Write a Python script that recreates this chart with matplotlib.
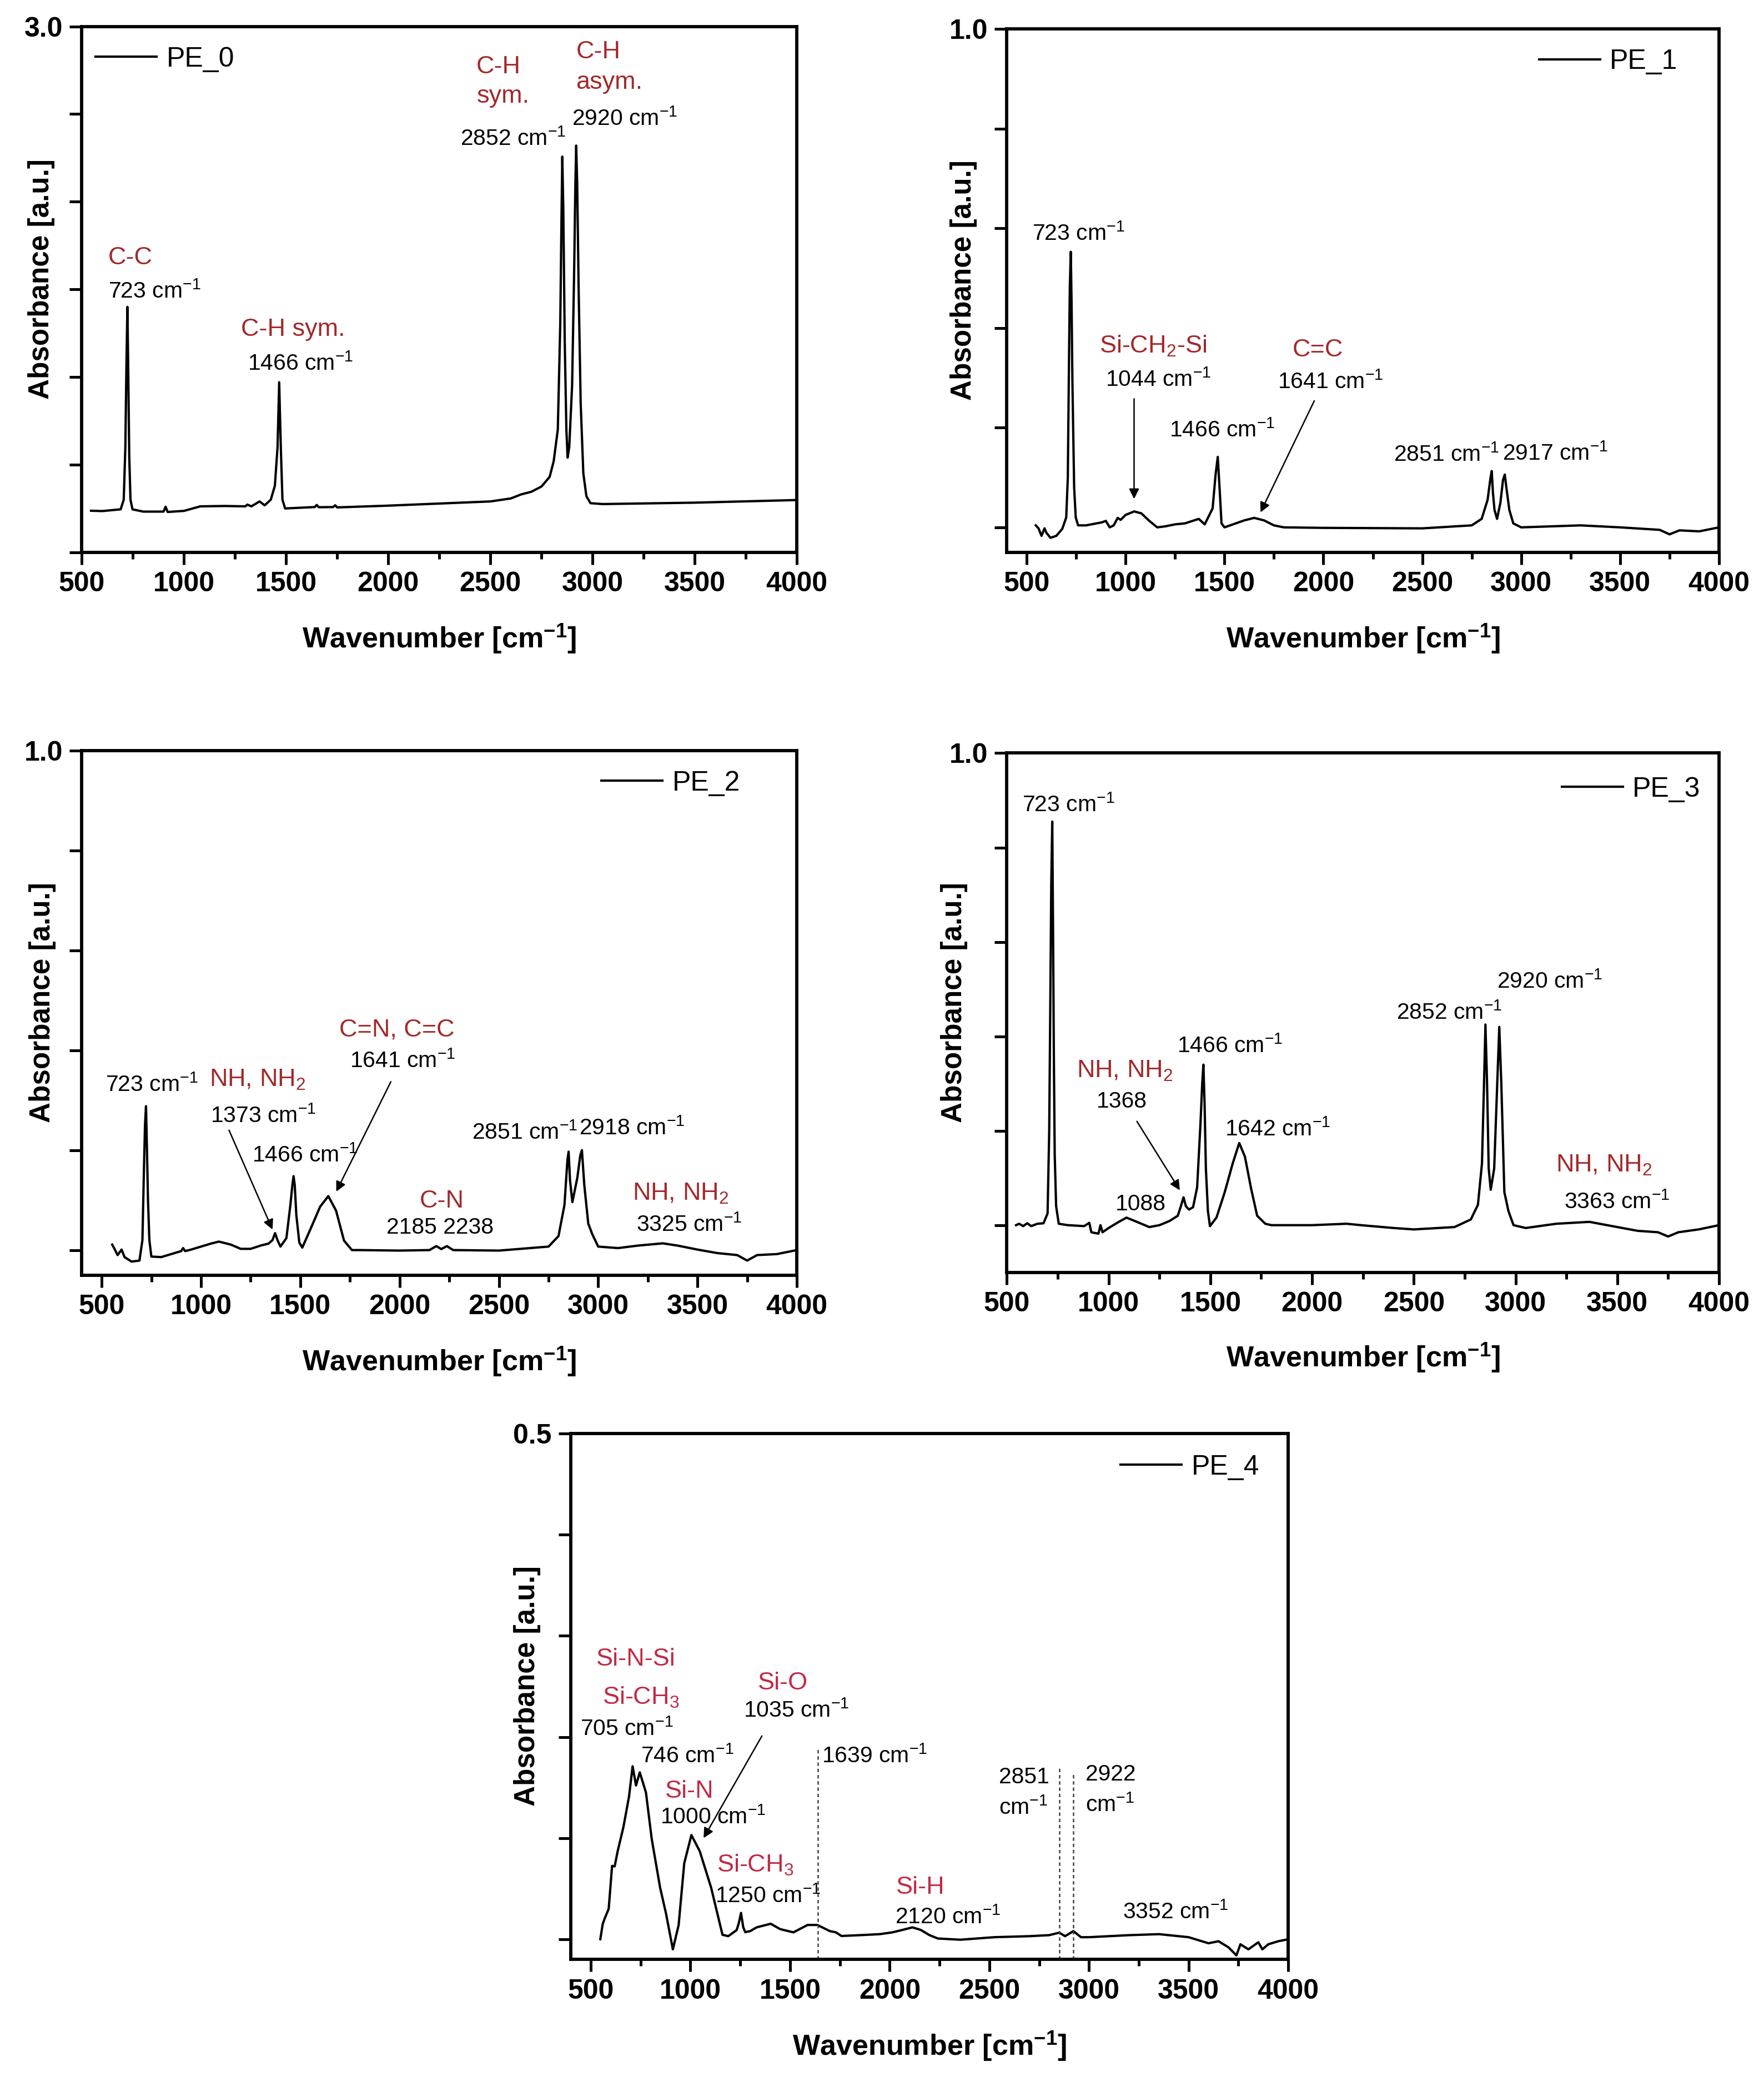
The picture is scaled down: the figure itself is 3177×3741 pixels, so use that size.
import matplotlib
matplotlib.use('Agg')
import matplotlib.pyplot as plt
import numpy as np

plt.rcParams['font.family'] = ['Liberation Sans', 'DejaVu Sans']
plt.rcParams['mathtext.fontset'] = 'custom'
plt.rcParams['mathtext.rm'] = 'Liberation Sans'
plt.rcParams['mathtext.it'] = 'Liberation Sans:italic'
plt.rcParams['mathtext.bf'] = 'Liberation Sans:bold'

RED = '#a3282b'
RED_E = '#c02a45'

# ---- spectra (wavenumber [cm-1], absorbance [a.u.]) ----
pe0_wn = [545, 600, 690, 705, 713, 718, 723, 727, 732, 738,
          748, 800, 900, 910, 920, 1000, 1080, 1200, 1300, 1310,
          1330, 1370, 1395, 1425, 1445, 1458, 1466, 1474, 1482, 1495,
          1640, 1650, 1660, 1730, 1740, 1750, 2000, 2500, 2600, 2650,
          2700, 2750, 2790, 2810, 2830, 2842, 2848, 2852, 2857, 2864,
          2872, 2878, 2886, 2900, 2910, 2916, 2920, 2925, 2932, 2942,
          2955, 2970, 2990, 3050, 3500, 4000]
pe0_abs = [0.237, 0.235, 0.245, 0.30, 0.60, 1.05, 1.40, 1.05, 0.55, 0.30,
           0.245, 0.232, 0.232, 0.26, 0.230, 0.236, 0.262, 0.264, 0.262, 0.272,
           0.262, 0.29, 0.268, 0.30, 0.38, 0.60, 0.97, 0.60, 0.30, 0.25,
           0.258, 0.27, 0.257, 0.258, 0.268, 0.256, 0.266, 0.29, 0.307, 0.33,
           0.345, 0.375, 0.43, 0.52, 0.70, 1.30, 1.90, 2.257, 1.95, 1.20,
           0.70, 0.54, 0.60, 0.95, 1.60, 2.10, 2.32, 2.10, 1.50, 0.85,
           0.45, 0.32, 0.28, 0.275, 0.283, 0.298]

pe1_wn = [546, 560, 575, 590, 600, 620, 650, 680, 700, 708,
          713, 718, 723, 727, 731, 735, 740, 748, 760, 800,
          880, 900, 920, 940, 960, 975, 1000, 1044, 1080, 1120,
          1160, 1200, 1250, 1300, 1370, 1400, 1440, 1455, 1466, 1475,
          1485, 1500, 1550, 1600, 1650, 1700, 1750, 1800, 2000, 2500,
          2750, 2800, 2830, 2845, 2851, 2857, 2865, 2878, 2895, 2908,
          2917, 2925, 2940, 2960, 3000, 3300, 3500, 3700, 3750, 3800,
          3900, 4000]
pe1_abs = [0.004, -0.002, -0.017, -0.002, -0.011, -0.021, -0.017, -0.003, 0.02, 0.10,
           0.30, 0.48, 0.553, 0.45, 0.30, 0.20, 0.08, 0.02, 0.004, 0.004,
           0.010, 0.013, 0.0, 0.004, 0.019, 0.015, 0.025, 0.032, 0.028, 0.013,
           0.0, 0.002, 0.006, 0.008, 0.017, 0.006, 0.038, 0.106, 0.1415, 0.08,
           0.008, 0.0, 0.007, 0.014, 0.019, 0.014, 0.004, 0.0, -0.001, -0.002,
           0.004, 0.017, 0.055, 0.10, 0.113, 0.07, 0.035, 0.017, 0.05, 0.095,
           0.106, 0.08, 0.035, 0.008, 0.0, 0.004, 0.0, -0.005, -0.014, -0.006,
           -0.008, 0.0]

pe2_wn = [553, 565, 580, 600, 615, 650, 690, 705, 712, 718,
          723, 728, 733, 740, 750, 800, 850, 900, 910, 920,
          950, 1000, 1050, 1090, 1150, 1200, 1250, 1300, 1340, 1360,
          1373, 1385, 1400, 1430, 1450, 1460, 1466, 1472, 1480, 1495,
          1510, 1550, 1600, 1641, 1680, 1720, 1760, 1800, 2000, 2150,
          2185, 2210, 2238, 2270, 2500, 2750, 2800, 2830, 2845, 2851,
          2858, 2870, 2895, 2910, 2918, 2930, 2950, 2970, 3000, 3100,
          3200, 3325, 3400, 3500, 3600, 3700, 3750, 3800, 3900, 4000]
pe2_abs = [0.011, 0.002, -0.010, 0.001, -0.014, -0.023, -0.021, 0.02, 0.15, 0.25,
           0.288, 0.20, 0.10, 0.02, -0.013, -0.014, -0.008, -0.002, 0.004, -0.002,
           0.001, 0.007, 0.013, 0.017, 0.011, 0.0025, 0.0025, 0.009, 0.013, 0.02,
           0.034, 0.02, 0.007, 0.024, 0.09, 0.13, 0.148, 0.13, 0.07, 0.015,
           0.005, 0.041, 0.087, 0.108, 0.079, 0.019, 0.0, 0.0, -0.001, 0.0,
           0.008, 0.002, 0.008, 0.0, -0.001, 0.007, 0.028, 0.09, 0.18, 0.197,
           0.14, 0.096, 0.145, 0.19, 0.20, 0.13, 0.053, 0.032, 0.007, 0.004,
           0.009, 0.0135, 0.009, 0.001, -0.006, -0.01, -0.021, -0.010, -0.008, 0.0]

pe3_wn = [545, 560, 580, 600, 620, 650, 680, 700, 708, 713,
          718, 723, 727, 731, 735, 742, 755, 800, 880, 905,
          915, 950, 960, 970, 1000, 1050, 1088, 1150, 1200, 1250,
          1300, 1340, 1355, 1368, 1380, 1395, 1415, 1435, 1452, 1460,
          1466, 1472, 1478, 1488, 1498, 1530, 1570, 1610, 1642, 1670,
          1700, 1730, 1770, 1800, 2000, 2170, 2240, 2400, 2500, 2700,
          2780, 2815, 2835, 2845, 2852, 2860, 2868, 2878, 2895, 2910,
          2920, 2930, 2945, 2965, 2990, 3050, 3200, 3363, 3450, 3600,
          3700, 3750, 3800, 3900, 4000]
pe3_abs = [0.0, 0.003, -0.002, 0.004, -0.002, 0.003, 0.004, 0.025, 0.20, 0.45,
           0.72, 0.855, 0.62, 0.35, 0.15, 0.04, 0.003, 0.0, -0.002, 0.005,
           -0.015, -0.018, 0.0, -0.015, -0.006, 0.007, 0.016, 0.005, -0.004, 0.0,
           0.009, 0.02, 0.04, 0.059, 0.04, 0.033, 0.038, 0.08, 0.22, 0.30,
           0.34, 0.25, 0.12, 0.03, -0.002, 0.016, 0.069, 0.131, 0.174, 0.145,
           0.078, 0.02, 0.003, 0.0, 0.0, 0.003, 0.0, -0.006, -0.009, -0.004,
           0.012, 0.043, 0.131, 0.30, 0.425, 0.30, 0.12, 0.075, 0.12, 0.30,
           0.42, 0.30, 0.07, 0.03, 0.0, -0.006, 0.003, 0.007, 0.0, -0.012,
           -0.015, -0.024, -0.015, -0.009, 0.0]

pe4_wn = [548, 560, 571, 590, 607, 620, 635, 664, 692, 710,
          727, 746, 777, 806, 848, 877, 912, 941, 969, 1005,
          1047, 1104, 1161, 1190, 1232, 1243, 1254, 1265, 1275, 1300,
          1332, 1403, 1450, 1517, 1588, 1637, 1700, 1730, 1758, 1850,
          1950, 2014, 2060, 2114, 2156, 2200, 2242, 2355, 2525, 2700,
          2800, 2851, 2880, 2922, 2960, 3000, 3200, 3352, 3500, 3600,
          3650, 3700, 3740, 3760, 3800, 3850, 3870, 3900, 3950, 4000]
pe4_abs = [0.0, 0.015, 0.021, 0.03, 0.0725, 0.072, 0.087, 0.111, 0.141, 0.171,
           0.152, 0.165, 0.145, 0.099, 0.051, 0.026, -0.010, 0.014, 0.075, 0.103,
           0.087, 0.051, 0.0044, 0.003, 0.009, 0.016, 0.026, 0.012, 0.007, 0.008,
           0.0117, 0.0153, 0.010, 0.0068, 0.0141, 0.0141, 0.008, 0.0068, 0.0032, 0.004,
           0.005, 0.0068, 0.009, 0.0117, 0.0092, 0.004, 0.0007, -0.0005, 0.002, 0.003,
           0.004, 0.0065, 0.003, 0.008, 0.002, 0.002, 0.004, 0.005, 0.002, -0.004,
           -0.002, -0.008, -0.016, -0.005, -0.010, -0.003, -0.010, -0.005, -0.002, 0.0]

# dotted markers in PE_4
pe4_guide_wn = [1639, 2851, 2922]
pe4_guide_top = [0.188, 0.169, 0.165]


def style_axes(ax, xlim, ylim, ystep, ytop):
    ax.set_xlim(*xlim)
    ax.set_ylim(*ylim)
    xt = np.arange(500, 4001, 500)
    ax.set_xticks(xt)
    ax.set_xticklabels([str(v) for v in xt], fontweight='bold', fontsize=12)
    ax.set_xticks(np.arange(750, 4000, 500), minor=True)
    yt = np.arange(0, ytop + ystep / 2, ystep)
    ax.set_yticks(yt)
    ax.set_yticklabels(['' if abs(v - ytop) > 1e-9 else f'{v:.1f}' for v in yt],
                       fontweight='bold', fontsize=12)
    ax.tick_params(direction='out', length=5.3, width=1.2, pad=3)
    ax.tick_params(which='minor', direction='out', length=2.8, width=1.2)
    for sp in ax.spines.values():
        sp.set_linewidth(1.4)
    ax.set_xlabel(r'Wavenumber [cm$^{\mathbf{-1}}$]', fontsize=12.5, fontweight='bold', va='center')
    ax.xaxis.set_label_coords(0.5, -0.165)
    ax.set_ylabel('Absorbance [a.u.]', fontsize=12.3, fontweight='bold', va='center')


def put(ax, items, red):
    for txt, x, y, is_red in items:
        ax.text(x, y, txt, ha='left', va='center',
                fontsize=10.8 if is_red else 9.8,
                color=red if is_red else 'black')


def arrow(ax, tail, head):
    ax.annotate('', xy=head, xytext=tail,
                arrowprops=dict(arrowstyle='-|>', lw=0.6, color='black',
                                mutation_scale=9, shrinkA=0, shrinkB=0))


fig = plt.figure(figsize=(3177 / 300, 3741 / 300), dpi=300)

CM = r' cm$^{-1}$'

# ---- PE_0 ----
ax = fig.add_axes([0.0464, 0.7341, 0.4053, 0.2532])
ax.plot(pe0_wn, pe0_abs, color='black', lw=1.0, label='PE_0')
style_axes(ax, (500, 4000), (0, 3.0), 0.5, 3.0)
ax.yaxis.set_label_coords(-0.057, 0.52)
ax.legend(loc='upper left', bbox_to_anchor=(0.019, 0.962), frameon=False, fontsize=12,
          handlelength=2.2, handletextpad=0.35, borderaxespad=0, borderpad=0)
put(ax, [('C-C', 630, 1.68, True), ('723' + CM, 630, 1.49, False),
         ('C-H sym.', 1278, 1.27, True), ('1466' + CM, 1311, 1.076, False),
         ('C-H', 2432, 2.77, True), ('sym.', 2432, 2.60, True),
         ('2852' + CM, 2354, 2.36, False),
         ('C-H', 2919, 2.855, True), ('asym.', 2919, 2.68, True),
         ('2920' + CM, 2898, 2.475, False)], RED)

# ---- PE_1 ----
ax = fig.add_axes([0.5708, 0.7341, 0.4037, 0.2519])
ax.plot(pe1_wn, pe1_abs, color='black', lw=1.0, label='PE_1')
style_axes(ax, (400, 4000), (-0.05, 1.0), 0.2, 1.0)
ax.yaxis.set_label_coords(-0.061, 0.52)
ax.legend(loc='upper right', bbox_to_anchor=(0.942, 0.962), frameon=False, fontsize=12,
          handlelength=2.2, handletextpad=0.35, borderaxespad=0, borderpad=0)
put(ax, [('723' + CM, 527, 0.59, False),
         (r'Si-CH$_2$-Si', 867, 0.364, True), ('1044' + CM, 899, 0.297, False),
         ('C=C', 1845, 0.356, True), ('1641' + CM, 1769, 0.292, False),
         ('1466' + CM, 1220, 0.195, False),
         ('2851' + CM, 2356, 0.146, False), ('2917' + CM, 2905, 0.148, False)], RED)
arrow(ax, (1043, 0.258), (1043, 0.057))
arrow(ax, (1954, 0.254), (1682, 0.03))

# ---- PE_2 ----
ax = fig.add_axes([0.0464, 0.3861, 0.4053, 0.2526])
ax.plot(pe2_wn, pe2_abs, color='black', lw=1.0, label='PE_2')
style_axes(ax, (400, 4000), (-0.05, 1.0), 0.2, 1.0)
ax.yaxis.set_label_coords(-0.055, 0.52)
ax.legend(loc='upper right', bbox_to_anchor=(0.921, 0.962), frameon=False, fontsize=12,
          handlelength=2.2, handletextpad=0.35, borderaxespad=0, borderpad=0)
put(ax, [('723' + CM, 519, 0.331, False),
         (r'NH, NH$_2$', 1042, 0.341, True), ('1373' + CM, 1048, 0.269, False),
         ('C=N, C=C', 1697, 0.441, True), ('1641' + CM, 1750, 0.379, False),
         ('1466' + CM, 1256, 0.19, False),
         ('C-N', 2100, 0.098, True), ('2185 2238', 1935, 0.045, False),
         ('2851' + CM, 2365, 0.235, False), ('2918' + CM, 2905, 0.244, False),
         (r'NH, NH$_2$', 3172, 0.113, True), ('3325' + CM, 3193, 0.051, False)], RED)
arrow(ax, (1141, 0.24), (1360, 0.041))
arrow(ax, (1956, 0.337), (1681, 0.117))

# ---- PE_3 ----
ax = fig.add_axes([0.5708, 0.3874, 0.4037, 0.2500])
ax.plot(pe3_wn, pe3_abs, color='black', lw=1.0, label='PE_3')
style_axes(ax, (500, 4000), (-0.1, 1.0), 0.2, 1.0)
ax.yaxis.set_label_coords(-0.074, 0.52)
ax.legend(loc='upper right', bbox_to_anchor=(0.974, 0.955), frameon=False, fontsize=12,
          handlelength=2.2, handletextpad=0.35, borderaxespad=0, borderpad=0)
put(ax, [('723' + CM, 575, 0.89, False),
         (r'NH, NH$_2$', 843, 0.327, True), ('1368', 941, 0.262, False),
         ('1466' + CM, 1337, 0.38, False), ('1642' + CM, 1570, 0.204, False),
         ('1088', 1033, 0.044, False),
         ('2852' + CM, 2415, 0.451, False), ('2920' + CM, 2909, 0.516, False),
         (r'NH, NH$_2$', 3199, 0.127, True), ('3363' + CM, 3239, 0.05, False)], RED)
arrow(ax, (1139, 0.22), (1350, 0.074))

# ---- PE_4 ----
ax = fig.add_axes([0.3236, 0.0566, 0.4067, 0.2532])
ax.plot(pe4_wn, pe4_abs, color='black', lw=1.0, label='PE_4')
style_axes(ax, (400, 4000), (-0.02, 0.5), 0.1, 0.5)
ax.yaxis.set_label_coords(-0.061, 0.52)
ax.legend(loc='upper right', bbox_to_anchor=(0.96, 0.96), frameon=False, fontsize=12,
          handlelength=2.2, handletextpad=0.35, borderaxespad=0, borderpad=0)
ax.vlines(pe4_guide_wn, -0.02, pe4_guide_top, colors='0.25', linestyles=(0, (2.5, 2)), lw=0.6)
put(ax, [('Si-N-Si', 527, 0.277, True), (r'Si-CH$_3$', 559, 0.239, True),
         ('705' + CM, 447, 0.208, False), ('746' + CM, 751, 0.181, False),
         ('Si-O', 1338, 0.253, True), ('1035' + CM, 1266, 0.226, False),
         ('Si-N', 874, 0.146, True), ('1000' + CM, 847, 0.121, False),
         (r'Si-CH$_3$', 1133, 0.073, True), ('1250' + CM, 1125, 0.043, False),
         ('1639' + CM, 1658, 0.181, False),
         ('Si-H', 2032, 0.051, True), ('2120' + CM, 2027, 0.022, False),
         ('2851', 2547, 0.16, False), (r'cm$^{-1}$', 2547, 0.13, False),
         ('2922', 2982, 0.163, False), (r'cm$^{-1}$', 2982, 0.133, False),
         ('3352' + CM, 3169, 0.027, False)], RED_E)
arrow(ax, (1359, 0.201), (1066, 0.10))

fig.savefig('out.png', dpi=300)
